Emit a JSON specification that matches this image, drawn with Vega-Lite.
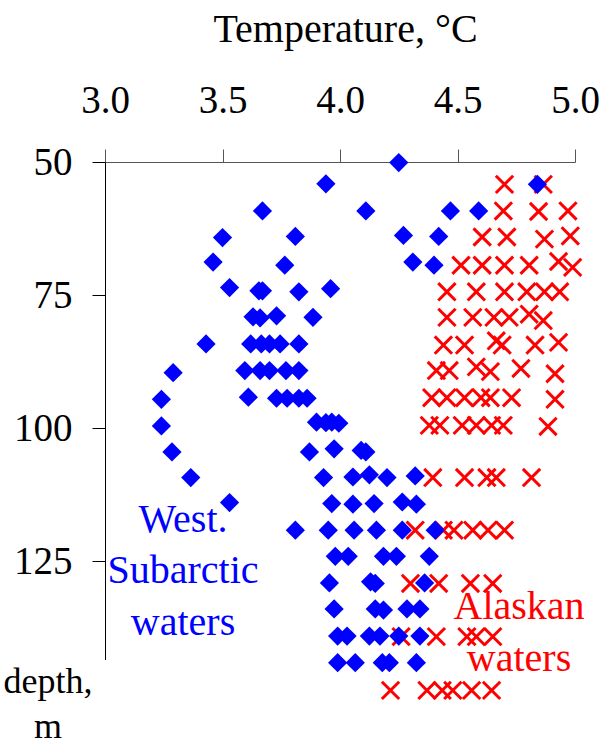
{
  "$schema": "https://vega.github.io/schema/vega-lite/v6.json",
  "autosize": {"type": "none"},
  "width": 470,
  "height": 497.5,
  "padding": {"left": 105, "top": 162, "right": 31, "bottom": 82.5},
  "background": "white",
  "config": {
    "view": {"stroke": null},
    "axis": {
      "grid": false,
      "labelFont": "Liberation Serif",
      "labelFontSize": 39,
      "labelColor": "#000000",
      "titleFont": "Liberation Serif",
      "titleFontWeight": "normal",
      "titleColor": "#000000",
      "domainColor": "#000000",
      "tickColor": "#000000",
      "tickSize": 13,
      "labelFlush": false,
      "labelOverlap": false,
      "labelBound": false
    }
  },
  "datasets": {
    "obs": [
      {"temp": 4.25, "depth": 50.1, "water": "West"},
      {"temp": 3.94, "depth": 54.1, "water": "West"},
      {"temp": 4.84, "depth": 54.2, "water": "West"},
      {"temp": 3.67, "depth": 59.2, "water": "West"},
      {"temp": 4.11, "depth": 59.2, "water": "West"},
      {"temp": 4.47, "depth": 59.2, "water": "West"},
      {"temp": 4.59, "depth": 59.2, "water": "West"},
      {"temp": 3.50, "depth": 64.2, "water": "West"},
      {"temp": 3.81, "depth": 64.0, "water": "West"},
      {"temp": 4.27, "depth": 63.8, "water": "West"},
      {"temp": 4.42, "depth": 64.0, "water": "West"},
      {"temp": 3.46, "depth": 68.8, "water": "West"},
      {"temp": 3.765, "depth": 69.4, "water": "West"},
      {"temp": 4.31, "depth": 68.8, "water": "West"},
      {"temp": 4.40, "depth": 69.4, "water": "West"},
      {"temp": 3.53, "depth": 73.6, "water": "West"},
      {"temp": 3.655, "depth": 74.2, "water": "West"},
      {"temp": 3.67, "depth": 74.2, "water": "West"},
      {"temp": 3.825, "depth": 74.4, "water": "West"},
      {"temp": 3.96, "depth": 73.8, "water": "West"},
      {"temp": 3.63, "depth": 79.1, "water": "West"},
      {"temp": 3.66, "depth": 79.3, "water": "West"},
      {"temp": 3.73, "depth": 78.9, "water": "West"},
      {"temp": 3.885, "depth": 79.2, "water": "West"},
      {"temp": 3.43, "depth": 84.2, "water": "West"},
      {"temp": 3.62, "depth": 84.2, "water": "West"},
      {"temp": 3.665, "depth": 84.2, "water": "West"},
      {"temp": 3.70, "depth": 84.2, "water": "West"},
      {"temp": 3.745, "depth": 84.2, "water": "West"},
      {"temp": 3.825, "depth": 84.2, "water": "West"},
      {"temp": 3.29, "depth": 89.6, "water": "West"},
      {"temp": 3.595, "depth": 89.2, "water": "West"},
      {"temp": 3.66, "depth": 89.2, "water": "West"},
      {"temp": 3.70, "depth": 89.2, "water": "West"},
      {"temp": 3.77, "depth": 89.2, "water": "West"},
      {"temp": 3.825, "depth": 89.2, "water": "West"},
      {"temp": 3.24, "depth": 94.6, "water": "West"},
      {"temp": 3.61, "depth": 94.2, "water": "West"},
      {"temp": 3.73, "depth": 94.4, "water": "West"},
      {"temp": 3.775, "depth": 94.4, "water": "West"},
      {"temp": 3.825, "depth": 94.4, "water": "West"},
      {"temp": 3.86, "depth": 94.4, "water": "West"},
      {"temp": 3.24, "depth": 99.6, "water": "West"},
      {"temp": 3.90, "depth": 98.9, "water": "West"},
      {"temp": 3.94, "depth": 99.0, "water": "West"},
      {"temp": 3.965, "depth": 98.9, "water": "West"},
      {"temp": 3.995, "depth": 99.1, "water": "West"},
      {"temp": 3.285, "depth": 104.5, "water": "West"},
      {"temp": 3.87, "depth": 104.5, "water": "West"},
      {"temp": 3.975, "depth": 103.9, "water": "West"},
      {"temp": 4.09, "depth": 104.2, "water": "West"},
      {"temp": 4.11, "depth": 104.5, "water": "West"},
      {"temp": 3.365, "depth": 109.3, "water": "West"},
      {"temp": 3.93, "depth": 109.3, "water": "West"},
      {"temp": 4.055, "depth": 109.2, "water": "West"},
      {"temp": 4.125, "depth": 108.8, "water": "West"},
      {"temp": 4.20, "depth": 109.3, "water": "West"},
      {"temp": 4.32, "depth": 109.0, "water": "West"},
      {"temp": 3.53, "depth": 114.0, "water": "West"},
      {"temp": 3.965, "depth": 114.2, "water": "West"},
      {"temp": 4.055, "depth": 114.3, "water": "West"},
      {"temp": 4.145, "depth": 114.2, "water": "West"},
      {"temp": 4.265, "depth": 113.9, "water": "West"},
      {"temp": 4.325, "depth": 114.3, "water": "West"},
      {"temp": 3.81, "depth": 119.2, "water": "West"},
      {"temp": 3.95, "depth": 119.2, "water": "West"},
      {"temp": 4.06, "depth": 119.2, "water": "West"},
      {"temp": 4.155, "depth": 119.2, "water": "West"},
      {"temp": 4.265, "depth": 119.2, "water": "West"},
      {"temp": 4.405, "depth": 119.2, "water": "West"},
      {"temp": 3.98, "depth": 124.1, "water": "West"},
      {"temp": 4.035, "depth": 124.1, "water": "West"},
      {"temp": 4.185, "depth": 124.1, "water": "West"},
      {"temp": 4.24, "depth": 124.1, "water": "West"},
      {"temp": 4.38, "depth": 124.1, "water": "West"},
      {"temp": 3.955, "depth": 129.1, "water": "West"},
      {"temp": 4.13, "depth": 128.9, "water": "West"},
      {"temp": 4.15, "depth": 129.2, "water": "West"},
      {"temp": 4.36, "depth": 129.1, "water": "West"},
      {"temp": 3.975, "depth": 134.0, "water": "West"},
      {"temp": 4.15, "depth": 134.0, "water": "West"},
      {"temp": 4.185, "depth": 134.2, "water": "West"},
      {"temp": 4.285, "depth": 134.0, "water": "West"},
      {"temp": 4.34, "depth": 134.0, "water": "West"},
      {"temp": 3.99, "depth": 139.1, "water": "West"},
      {"temp": 4.03, "depth": 139.1, "water": "West"},
      {"temp": 4.125, "depth": 139.1, "water": "West"},
      {"temp": 4.17, "depth": 139.1, "water": "West"},
      {"temp": 4.25, "depth": 139.1, "water": "West"},
      {"temp": 4.34, "depth": 139.1, "water": "West"},
      {"temp": 3.99, "depth": 144.1, "water": "West"},
      {"temp": 4.065, "depth": 144.1, "water": "West"},
      {"temp": 4.18, "depth": 144.1, "water": "West"},
      {"temp": 4.21, "depth": 144.1, "water": "West"},
      {"temp": 4.325, "depth": 144.1, "water": "West"},
      {"temp": 4.70, "depth": 54.2, "water": "Alaskan"},
      {"temp": 4.865, "depth": 54.2, "water": "Alaskan"},
      {"temp": 4.695, "depth": 59.2, "water": "Alaskan"},
      {"temp": 4.845, "depth": 59.3, "water": "Alaskan"},
      {"temp": 4.97, "depth": 59.2, "water": "Alaskan"},
      {"temp": 4.605, "depth": 64.1, "water": "Alaskan"},
      {"temp": 4.71, "depth": 64.1, "water": "Alaskan"},
      {"temp": 4.87, "depth": 64.5, "water": "Alaskan"},
      {"temp": 4.98, "depth": 63.9, "water": "Alaskan"},
      {"temp": 4.515, "depth": 69.4, "water": "Alaskan"},
      {"temp": 4.605, "depth": 69.4, "water": "Alaskan"},
      {"temp": 4.70, "depth": 69.4, "water": "Alaskan"},
      {"temp": 4.805, "depth": 69.4, "water": "Alaskan"},
      {"temp": 4.93, "depth": 68.7, "water": "Alaskan"},
      {"temp": 4.99, "depth": 69.8, "water": "Alaskan"},
      {"temp": 4.455, "depth": 74.4, "water": "Alaskan"},
      {"temp": 4.58, "depth": 74.4, "water": "Alaskan"},
      {"temp": 4.70, "depth": 74.4, "water": "Alaskan"},
      {"temp": 4.795, "depth": 74.4, "water": "Alaskan"},
      {"temp": 4.87, "depth": 74.4, "water": "Alaskan"},
      {"temp": 4.935, "depth": 74.4, "water": "Alaskan"},
      {"temp": 4.455, "depth": 79.2, "water": "Alaskan"},
      {"temp": 4.565, "depth": 79.2, "water": "Alaskan"},
      {"temp": 4.655, "depth": 79.2, "water": "Alaskan"},
      {"temp": 4.72, "depth": 79.2, "water": "Alaskan"},
      {"temp": 4.805, "depth": 78.6, "water": "Alaskan"},
      {"temp": 4.865, "depth": 79.8, "water": "Alaskan"},
      {"temp": 4.44, "depth": 84.4, "water": "Alaskan"},
      {"temp": 4.53, "depth": 84.4, "water": "Alaskan"},
      {"temp": 4.665, "depth": 83.6, "water": "Alaskan"},
      {"temp": 4.69, "depth": 84.4, "water": "Alaskan"},
      {"temp": 4.83, "depth": 84.4, "water": "Alaskan"},
      {"temp": 4.93, "depth": 83.9, "water": "Alaskan"},
      {"temp": 4.41, "depth": 89.2, "water": "Alaskan"},
      {"temp": 4.465, "depth": 89.2, "water": "Alaskan"},
      {"temp": 4.58, "depth": 88.5, "water": "Alaskan"},
      {"temp": 4.64, "depth": 89.4, "water": "Alaskan"},
      {"temp": 4.77, "depth": 88.8, "water": "Alaskan"},
      {"temp": 4.915, "depth": 89.8, "water": "Alaskan"},
      {"temp": 4.39, "depth": 94.3, "water": "Alaskan"},
      {"temp": 4.455, "depth": 94.3, "water": "Alaskan"},
      {"temp": 4.53, "depth": 94.3, "water": "Alaskan"},
      {"temp": 4.60, "depth": 94.3, "water": "Alaskan"},
      {"temp": 4.64, "depth": 94.3, "water": "Alaskan"},
      {"temp": 4.73, "depth": 94.3, "water": "Alaskan"},
      {"temp": 4.915, "depth": 94.6, "water": "Alaskan"},
      {"temp": 4.38, "depth": 99.5, "water": "Alaskan"},
      {"temp": 4.425, "depth": 99.5, "water": "Alaskan"},
      {"temp": 4.52, "depth": 99.5, "water": "Alaskan"},
      {"temp": 4.58, "depth": 99.5, "water": "Alaskan"},
      {"temp": 4.645, "depth": 99.5, "water": "Alaskan"},
      {"temp": 4.695, "depth": 99.5, "water": "Alaskan"},
      {"temp": 4.885, "depth": 99.7, "water": "Alaskan"},
      {"temp": 4.395, "depth": 109.3, "water": "Alaskan"},
      {"temp": 4.53, "depth": 109.3, "water": "Alaskan"},
      {"temp": 4.625, "depth": 109.3, "water": "Alaskan"},
      {"temp": 4.665, "depth": 109.3, "water": "Alaskan"},
      {"temp": 4.815, "depth": 109.3, "water": "Alaskan"},
      {"temp": 4.32, "depth": 119.2, "water": "Alaskan"},
      {"temp": 4.44, "depth": 119.2, "water": "Alaskan"},
      {"temp": 4.485, "depth": 119.2, "water": "Alaskan"},
      {"temp": 4.565, "depth": 119.2, "water": "Alaskan"},
      {"temp": 4.63, "depth": 119.2, "water": "Alaskan"},
      {"temp": 4.70, "depth": 119.2, "water": "Alaskan"},
      {"temp": 4.30, "depth": 129.2, "water": "Alaskan"},
      {"temp": 4.42, "depth": 129.2, "water": "Alaskan"},
      {"temp": 4.555, "depth": 129.2, "water": "Alaskan"},
      {"temp": 4.65, "depth": 129.2, "water": "Alaskan"},
      {"temp": 4.26, "depth": 139.2, "water": "Alaskan"},
      {"temp": 4.41, "depth": 139.2, "water": "Alaskan"},
      {"temp": 4.54, "depth": 139.2, "water": "Alaskan"},
      {"temp": 4.58, "depth": 139.2, "water": "Alaskan"},
      {"temp": 4.65, "depth": 139.2, "water": "Alaskan"},
      {"temp": 4.215, "depth": 149.3, "water": "Alaskan"},
      {"temp": 4.37, "depth": 149.3, "water": "Alaskan"},
      {"temp": 4.435, "depth": 149.3, "water": "Alaskan"},
      {"temp": 4.48, "depth": 149.3, "water": "Alaskan"},
      {"temp": 4.56, "depth": 149.3, "water": "Alaskan"},
      {"temp": 4.645, "depth": 149.3, "water": "Alaskan"}
    ],
    "notes": [
      {"temp": 3.332, "depth": 117.2, "label": "West.\nSubarctic\nwaters", "water": "West"},
      {"temp": 4.762, "depth": 133.7, "label": "Alaskan\nwaters", "water": "Alaskan"}
    ]
  },
  "encoding": {
    "x": {
      "field": "temp",
      "type": "quantitative",
      "scale": {"domain": [3, 5], "nice": false, "zero": false},
      "axis": {
        "orient": "top",
        "values": [3, 3.5, 4, 4.5, 5],
        "format": ".1f",
        "labelPadding": 29,
        "title": "Temperature, °C",
        "titleFontSize": 40,
        "titleBaseline": "alphabetic",
        "titleY": -120.3,
        "titleX": 240,
        "titleAnchor": "middle",
        "domainColor": "#555555",
        "tickColor": "#555555"
      }
    },
    "y": {
      "field": "depth",
      "type": "quantitative",
      "scale": {"domain": [50, 143.5], "nice": false, "zero": false, "reverse": true},
      "axis": {
        "values": [50, 75, 100, 125],
        "labelPadding": 20,
        "title": ["depth,", "m"],
        "titleFontSize": 36,
        "titleAngle": 0,
        "titleAlign": "center",
        "titleBaseline": "alphabetic",
        "titleLineHeight": 45,
        "titleX": -57.5,
        "titleY": 530
      }
    },
    "color": {
      "field": "water",
      "type": "nominal",
      "scale": {"domain": ["West", "Alaskan"], "range": ["#0000ff", "#ff0000"]},
      "legend": null
    }
  },
  "layer": [
    {
      "data": {"name": "obs"},
      "transform": [{"filter": "datum.water === 'Alaskan'"}],
      "mark": {"type": "point", "shape": "M-1,-1L1,1M-1,1L1,-1", "filled": false, "size": 300, "strokeWidth": 3, "opacity": 1}
    },
    {
      "data": {"name": "obs"},
      "transform": [{"filter": "datum.water === 'West'"}],
      "mark": {"type": "point", "shape": "diamond", "filled": true, "size": 370, "opacity": 1}
    },
    {
      "data": {"name": "notes"},
      "mark": {"type": "text", "font": "Liberation Serif", "fontSize": 40, "lineBreak": "\n", "lineHeight": 51.5, "align": "center", "baseline": "middle"},
      "encoding": {"text": {"field": "label"}}
    }
  ]
}
